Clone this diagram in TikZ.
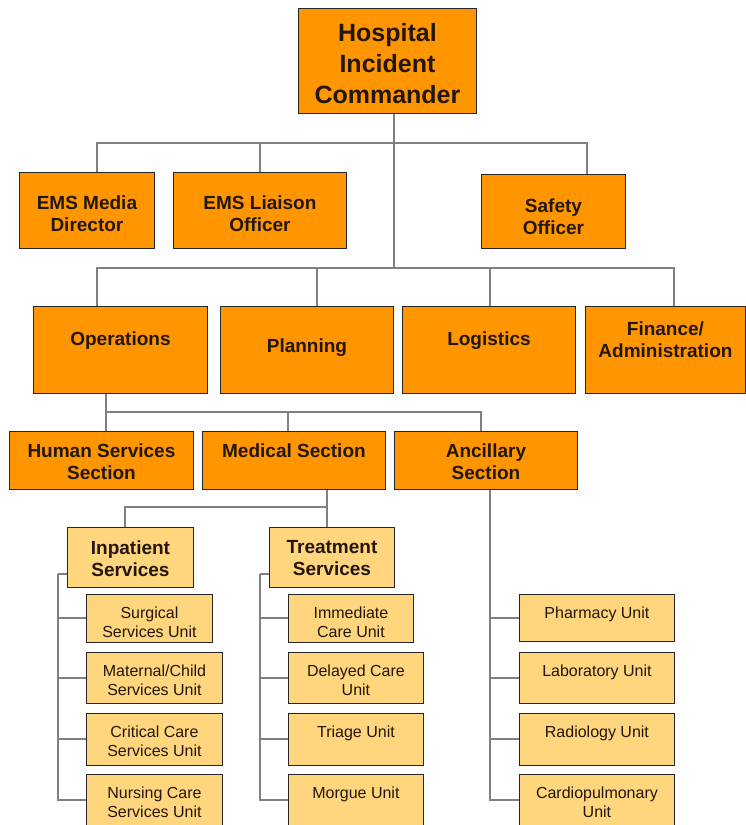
\documentclass[tikz,border=0pt]{standalone}
\usepackage{fontspec}
\setmainfont{Liberation Sans}

\begin{document}
\begin{tikzpicture}[x=1pt, y=-1pt,
    box/.style={draw=black!85, line width=0.9pt, anchor=north west, inner sep=0pt},
    mainbox/.style={box, fill=boxorange},
    unitbox/.style={box, fill=boxtan},
    link/.style={draw=linegray, line width=2pt},
    head/.style={anchor=north, inner sep=0pt, align=center, text=textdark,
        font=\bfseries\fontsize{19}{22}\selectfont, yshift=#1},
    unit/.style={anchor=north, inner sep=0pt, align=center, text=textdark,
        font=\fontsize{16}{19}\selectfont, yshift=-12.3pt}]
        % Define colours
        \definecolor{boxorange}{RGB}{255,150,0} % Orange
        \definecolor{boxtan}{RGB}{255,213,125} % Light orange
        \definecolor{linegray}{RGB}{128,128,128}
        \definecolor{textdark}{RGB}{35,22,10}
        \useasboundingbox (0,0) rectangle (746,825);
        \clip (0,0) rectangle (746,825);

        % Draw the commander
        \node[mainbox, minimum width=178, minimum height=105,
            label={[head=-15pt, font=\bfseries\fontsize{25}{31}\selectfont]north:Hospital\\Incident\\Commander}] (hic) at (298,8) {};

        % Draw the staff boxes
        \node[mainbox, minimum width=135, minimum height=76,
            label={[head=-23.2pt]north:EMS Media\\Director}] (media) at (19,172) {};
        \node[mainbox, minimum width=173, minimum height=76,
            label={[head=-23.2pt]north:EMS Liaison\\Officer}] (liaison) at (173,172) {};
        \node[mainbox, minimum width=144, minimum height=74,
            label={[head=-24.2pt]north:Safety\\Officer}] (safety) at (481,174) {};

        % Draw the four sections
        \node[mainbox, minimum width=174, minimum height=87,
            label={[head=-25.2pt]north:Operations}] (ops) at (33,306) {};
        \node[mainbox, minimum width=173, minimum height=87,
            label={[head=-32.2pt]north:Planning}] (plan) at (220,306) {};
        \node[mainbox, minimum width=173, minimum height=87,
            label={[head=-25.2pt]north:Logistics}] (logi) at (402,306) {};
        \node[mainbox, minimum width=160, minimum height=87,
            label={[head=-15.2pt]north:Finance/\\Administration}] (fin) at (585,306) {};

        % Draw the operations branches
        \node[mainbox, minimum width=184, minimum height=58,
            label={[head=-12.2pt]north:Human Services\\Section}] (human) at (9,431) {};
        \node[mainbox, minimum width=183, minimum height=58,
            label={[head=-12.2pt]north:Medical Section}] (med) at (202,431) {};
        \node[mainbox, minimum width=183, minimum height=58,
            label={[head=-12.2pt]north:Ancillary\\Section}] (anc) at (394,431) {};

        % Draw the medical services
        \node[unitbox, minimum width=126, minimum height=60,
            label={[head=-13.2pt]north:Inpatient\\Services}] (inp) at (67,527) {};
        \node[unitbox, minimum width=125, minimum height=60,
            label={[head=-13.2pt]north:Treatment\\Services}] (treat) at (269,527) {};

        % Draw the units
        \node[unitbox, minimum width=126, minimum height=48,
            label={[unit]north:Surgical\\Services Unit}] (surg) at (86,594) {};
        \node[unitbox, minimum width=136, minimum height=51,
            label={[unit]north:Maternal/Child\\Services Unit}] (mat) at (86,652) {};
        \node[unitbox, minimum width=136, minimum height=52,
            label={[unit]north:Critical Care\\Services Unit}] (crit) at (86,713) {};
        \node[unitbox, minimum width=136, minimum height=52,
            label={[unit]north:Nursing Care\\Services Unit}] (nurs) at (86,774) {};

        \node[unitbox, minimum width=125, minimum height=48,
            label={[unit]north:Immediate\\Care Unit}] (imm) at (288,594) {};
        \node[unitbox, minimum width=135, minimum height=51,
            label={[unit]north:Delayed Care\\Unit}] (del) at (288,652) {};
        \node[unitbox, minimum width=135, minimum height=52,
            label={[unit]north:Triage Unit}] (tri) at (288,713) {};
        \node[unitbox, minimum width=135, minimum height=52,
            label={[unit]north:Morgue Unit}] (morg) at (288,774) {};

        \node[unitbox, minimum width=155, minimum height=47,
            label={[unit]north:Pharmacy Unit}] (pharm) at (519,594) {};
        \node[unitbox, minimum width=155, minimum height=51,
            label={[unit]north:Laboratory Unit}] (lab) at (519,652) {};
        \node[unitbox, minimum width=155, minimum height=52,
            label={[unit]north:Radiology Unit}] (rad) at (519,713) {};
        \node[unitbox, minimum width=155, minimum height=52,
            label={[unit]north:Cardiopulmonary\\Unit}] (card) at (519,774) {};

        % Draw the lines from the commander
        \coordinate (top1) at (394,143);
        \coordinate (top2) at (394,268);
        \draw[link] (hic.south -| top2) -- (top2);
        \draw[link] (top1) -| ([xshift=10.5pt]media.north);
        \draw[link] (top1) -| (liaison.north);
        \draw[link] (top1) -| ([xshift=34pt]safety.north);
        \draw[link] (top2) -| ([xshift=-23pt]ops.north);
        \draw[link] (top2) -| ([xshift=10.5pt]plan.north);
        \draw[link] (top2) -| ([xshift=1.5pt]logi.north);
        \draw[link] (top2) -| ([xshift=9pt]fin.north);

        % Draw the lines below operations
        \coordinate (mid1) at (106,412);
        \draw[link] (ops.south -| mid1) -- (mid1) -| ([xshift=5pt]human.north);
        \draw[link] (mid1) -| ([xshift=-5.5pt]med.north);
        \draw[link] (mid1) -| ([xshift=-4.5pt]anc.north);

        % Draw the lines below the medical section
        \coordinate (mid2) at (327,507);
        \draw[link] (med.south -| mid2) -- (treat.north -| mid2);
        \draw[link] (mid2) -| ([xshift=-5pt]inp.north);

        % Draw the unit brackets
        \coordinate (ibr) at (58,574);
        \coordinate (tbr) at (260,574);
        \draw[link] (inp.west |- ibr) -- (ibr);
        \draw[link] (treat.west |- tbr) -- (tbr);
        \foreach \u in {surg,mat,crit,nurs} {
            \draw[link] (ibr) |- (\u.west);
        }
        \foreach \u in {imm,del,tri,morg} {
            \draw[link] (tbr) |- (\u.west);
        }
        \foreach \u in {pharm,lab,rad,card} {
            \draw[link] ([xshift=4.5pt]anc.south) |- (\u.west);
        }
\end{tikzpicture}
\end{document}
